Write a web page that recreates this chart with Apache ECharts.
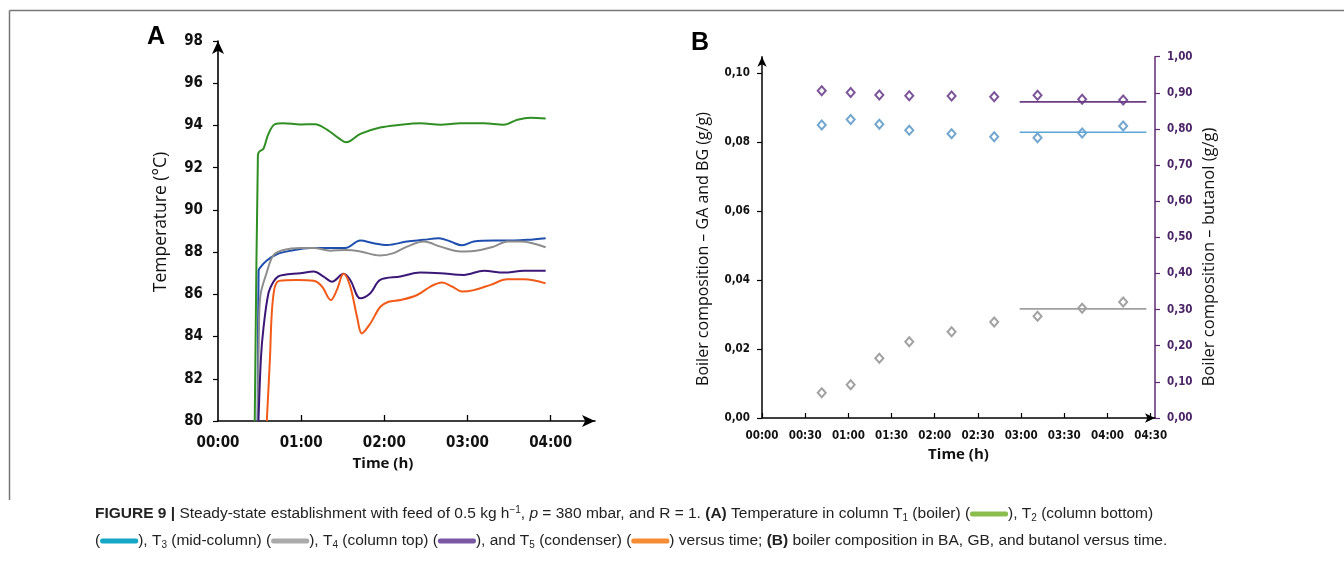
<!DOCTYPE html>
<html>
<head>
<meta charset="utf-8">
<script src="https://cdn.jsdelivr.net/npm/echarts@6/dist/echarts.min.js"></script>
<style>
html,body{margin:0;padding:0;background:#fff;}
#chart{width:1344px;height:562px;}
</style>
</head>
<body>
<div id="chart"></div>
<script>
// panel A - temperatures (time in minutes)
var t1Time = [26.5, 28.8, 29.8, 32.8, 36.4, 41.2, 47.2, 59.3, 70.1, 78.6, 87, 92.5, 102.7, 117, 131.6, 146, 160.5, 175, 191.8, 206, 216, 225.6, 236.4];
var t1Temp = [80, 92.6, 92.76, 92.9, 93.6, 94.06, 94.1, 94.05, 94.06, 93.8, 93.4, 93.2, 93.6, 93.9, 94.03, 94.1, 94.03, 94.1, 94.1, 94.03, 94.27, 94.37, 94.33];
var t2Time = [28.6, 29.3, 30.2, 35.2, 42.4, 52, 66.5, 78.6, 91.8, 102.7, 112.3, 122, 136.4, 148.5, 159.3, 167.7, 176.2, 184.6, 199, 213.5, 223.2, 236.4];
var t2Temp = [80, 87.1, 87.25, 87.6, 87.9, 88.06, 88.2, 88.2, 88.2, 88.55, 88.42, 88.34, 88.5, 88.58, 88.66, 88.5, 88.32, 88.5, 88.55, 88.55, 88.58, 88.66];
var t3Time = [28.7, 29.5, 30.5, 35, 40, 47.2, 59.3, 68.9, 81, 91.8, 102.7, 117, 126.7, 136.4, 148.5, 160.5, 175, 184.6, 199, 208.7, 218.4, 236.4];
var t3Temp = [80, 84.2, 85.9, 87.0, 87.85, 88.1, 88.2, 88.2, 88.07, 88.1, 88.03, 87.84, 87.95, 88.26, 88.5, 88.26, 88.03, 88.05, 88.26, 88.5, 88.5, 88.23];
var t4Time = [29.2, 31, 32.8, 36.4, 40, 43.5, 47.2, 59.3, 69, 76.2, 82.2, 90.6, 95.4, 102.7, 109.9, 117, 131.6, 146, 160.5, 177.4, 191.8, 206.3, 220.8, 236.4];
var t4Temp = [80, 83, 84.4, 86.05, 86.6, 86.85, 86.92, 87.0, 87.08, 86.84, 86.6, 86.97, 86.68, 85.81, 86.05, 86.68, 86.84, 87.03, 87.0, 86.92, 87.12, 87.03, 87.12, 87.12];
var t5Time = [35.2, 37.5, 38.7, 40.5, 43, 47, 56.8, 69, 75, 81.4, 85.7, 90.6, 95.4, 100.3, 103.8, 109.9, 117, 123.1, 131.6, 143.7, 153.3, 161.7, 168.9, 176.2, 184.6, 196.7, 208.7, 220.8, 236.4];
var t5Temp = [80, 83, 85, 86.2, 86.6, 86.66, 86.68, 86.64, 86.37, 85.73, 86.2, 86.97, 86.37, 84.94, 84.15, 84.62, 85.4, 85.65, 85.73, 85.97, 86.37, 86.56, 86.37, 86.13, 86.2, 86.45, 86.71, 86.71, 86.52];
var timeTicksA = [0, 60, 120, 180, 240];

// panel B - boiler composition
var sampleTime = [41.5, 61.6, 81.5, 102.3, 131.7, 161.3, 191.4, 222.4, 250.9];
var butanol = [0.906, 0.901, 0.894, 0.892, 0.891, 0.889, 0.893, 0.882, 0.880];
var compBlue = [0.0849, 0.0865, 0.0851, 0.0834, 0.0824, 0.0815, 0.0812, 0.0826, 0.0846];
var compGray = [0.0073, 0.0096, 0.0173, 0.0221, 0.025, 0.0278, 0.0295, 0.0318, 0.0336];
var steadyTime = [179, 267];
var butanolSteady = 0.875;
var blueSteady = 0.0828;
var graySteady = 0.0316;
var timeTicksB = [0, 30, 60, 90, 120, 150, 180, 210, 240, 270];
var leftTicksB = [0, 0.02, 0.04, 0.06, 0.08, 0.10];

function zip(a, b) {
    var out = [];
    for (var i = 0; i < a.length; i++) out.push([a[i], b[i]]);
    return out;
}
function hhmm(v) {
    var h = Math.floor(v / 60), m = Math.round(v - h * 60);
    return (h < 10 ? '0' : '') + h + ':' + (m < 10 ? '0' : '') + m;
}
function comma(v) {
    return v.toFixed(2).replace('.', ',');
}

var tickFont = "'DejaVu Sans Condensed', 'DejaVu Sans', sans-serif";
var titleFont = "'Open Sans', 'Noto Sans', sans-serif";
var purpleAxis = '#5e2b73';

function lineA(name, t, v, color) {
    return {
        name: name, type: 'line', xAxisIndex: 0, yAxisIndex: 0,
        data: zip(t, v), symbol: 'none', smooth: 0.35,
        lineStyle: {color: color, width: 2}
    };
}
function dots(name, y, color, axis) {
    return {
        name: name, type: 'scatter', xAxisIndex: 1, yAxisIndex: axis,
        data: zip(sampleTime, y), symbol: 'emptyDiamond', symbolSize: [8, 9],
        itemStyle: {color: color, borderWidth: 1.4}
    };
}
function steady(name, val, color, axis) {
    return {
        name: name, type: 'line', xAxisIndex: 1, yAxisIndex: axis,
        data: zip(steadyTime, [val, val]), symbol: 'none',
        lineStyle: {color: color, width: 1.7}
    };
}

var capFont = "'Liberation Sans Narrow', 'Liberation Sans', sans-serif";
var capSize = 15.5;
var capRich = {
    b: {fontWeight: 'bold', fontSize: capSize, fontFamily: capFont, fill: '#222', lineHeight: 18},
    i: {fontStyle: 'italic', fontSize: capSize, fontFamily: capFont, fill: '#222', lineHeight: 18},
    sub: {fontSize: 10, fontFamily: capFont, fill: '#222', verticalAlign: 'bottom', lineHeight: 18},
    sup: {fontSize: 10, fontFamily: capFont, fill: '#222', verticalAlign: 'top', lineHeight: 18},
    g: {width: 38, height: 5, backgroundColor: '#8bbd4e', borderRadius: 2},
    c: {width: 38, height: 5, backgroundColor: '#17a7c6', borderRadius: 2},
    gy: {width: 38, height: 5, backgroundColor: '#aaaaaa', borderRadius: 2},
    p: {width: 38, height: 5, backgroundColor: '#7b58a4', borderRadius: 2},
    o: {width: 38, height: 5, backgroundColor: '#f58b32', borderRadius: 2}
};
var capLine1 = '{b|FIGURE 9 |} Steady-state establishment with feed of 0.5 kg h{sup|\u22121}, {i|p} = 380 mbar, and R = 1. {b|(A)} Temperature in column T{sub|1} (boiler) ({g| }), T{sub|2} (column bottom)';
var capLine2 = '({c| }), T{sub|3} (mid-column) ({gy| }), T{sub|4} (column top) ({p| }), and T{sub|5} (condenser) ({o| }) versus time; {b|(B)} boiler composition in BA, GB, and butanol versus time.';

var option = {
    animation: false,
    backgroundColor: '#fff',
    grid: [
        {left: 218, top: 41, width: 377, height: 380},
        {left: 762, top: 56.7, width: 393, height: 361.3}
    ],
    xAxis: [{
        gridIndex: 0, type: 'value', min: 0, max: 272,
        axisLine: {lineStyle: {color: '#000', width: 1.6}, symbol: ['none', 'arrow'], symbolSize: [9, 13]},
        axisTick: {inside: true, length: 6, lineStyle: {color: '#000', width: 1.3}, customValues: [60, 120, 180, 240]},
        axisLabel: {customValues: timeTicksA, formatter: hhmm, margin: 15, color: '#111', fontSize: 15, fontWeight: 'bold', fontFamily: tickFont},
        splitLine: {show: false}
    }, {
        gridIndex: 1, type: 'value', min: 0, max: 273,
        axisLine: {lineStyle: {color: '#000', width: 1.5}, symbol: ['none', 'arrow'], symbolSize: [7, 10]},
        axisTick: {inside: true, length: 5, lineStyle: {color: '#000', width: 1.2}, customValues: timeTicksB},
        axisLabel: {customValues: timeTicksB, formatter: hhmm, margin: 12, color: '#111', fontSize: 11.5, fontWeight: 'bold', fontFamily: tickFont},
        splitLine: {show: false},
        name: 'Time (h)', nameLocation: 'middle', nameGap: 26,
        nameTextStyle: {fontSize: 15, fontWeight: 'bold', color: '#111', fontFamily: titleFont}
    }],
    yAxis: [{
        gridIndex: 0, type: 'value', min: 80, max: 98, interval: 2,
        axisLine: {lineStyle: {color: '#000', width: 1.6}, symbol: ['none', 'arrow'], symbolSize: [9, 13]},
        axisTick: {length: 5, lineStyle: {color: '#000', width: 1.2}},
        axisLabel: {margin: 15, color: '#111', fontSize: 15, fontWeight: 'bold', fontFamily: tickFont},
        splitLine: {show: false}
    }, {
        gridIndex: 1, type: 'value', min: 0, max: 0.1047,
        axisLine: {lineStyle: {color: '#000', width: 1.5}, symbol: ['none', 'arrow'], symbolSize: [7, 10]},
        axisTick: {length: 5, lineStyle: {color: '#000', width: 1.2}, customValues: leftTicksB},
        axisLabel: {customValues: leftTicksB, formatter: comma, margin: 12, color: '#111', fontSize: 11.5, fontWeight: 'bold', fontFamily: tickFont},
        splitLine: {show: false}
    }, {
        gridIndex: 1, type: 'value', position: 'right', min: 0, max: 1, interval: 0.1,
        axisLine: {show: true, lineStyle: {color: purpleAxis, width: 1.5}},
        axisTick: {show: true, length: 5, lineStyle: {color: purpleAxis, width: 1.2}},
        axisLabel: {formatter: comma, margin: 12, color: '#4a2466', fontSize: 11.5, fontWeight: 'bold', fontFamily: tickFont},
        splitLine: {show: false}
    }],
    graphic: [
        {type: 'line', shape: {x1: 9.5, y1: 10.5, x2: 1344, y2: 10.5}, style: {stroke: '#777', lineWidth: 1.5}},
        {type: 'line', shape: {x1: 9.5, y1: 10.5, x2: 9.5, y2: 500}, style: {stroke: '#777', lineWidth: 1.5}},
        {type: 'text', x: 147, y: 25, style: {text: 'A', fontSize: 25, fontWeight: 'bold', fontFamily: 'Liberation Sans, Arial, sans-serif', fill: '#000'}},
        {type: 'text', x: 691, y: 31, style: {text: 'B', fontSize: 25, fontWeight: 'bold', fontFamily: 'Liberation Sans, Arial, sans-serif', fill: '#000'}},
        {type: 'text', x: 161.5, y: 222, rotation: Math.PI / 2,
            style: {text: 'Temperature (\u00b0C)', fontSize: 17.5, fontFamily: titleFont, fill: '#111', align: 'center', verticalAlign: 'middle'}},
        {type: 'text', x: 383, y: 464,
            style: {text: 'Time (h)', fontSize: 15, fontWeight: 'bold', fontFamily: titleFont, fill: '#111', align: 'center', verticalAlign: 'middle'}},
        {type: 'text', x: 703.5, y: 249, rotation: Math.PI / 2,
            style: {text: 'Boiler composition \u2013 GA and BG (g/g)', fontSize: 16, fontFamily: titleFont, fill: '#111', align: 'center', verticalAlign: 'middle'}},
        {type: 'text', x: 1209, y: 257, rotation: Math.PI / 2,
            style: {text: 'Boiler composition \u2013 butanol (g/g)', fontSize: 16.5, fontFamily: titleFont, fill: '#111', align: 'center', verticalAlign: 'middle'}},
        {type: 'text', x: 95, y: 505, style: {text: capLine1, rich: capRich, fontSize: capSize, fontFamily: capFont, fill: '#222', lineHeight: 18}},
        {type: 'text', x: 95, y: 532, style: {text: capLine2, rich: capRich, fontSize: capSize, fontFamily: capFont, fill: '#222', lineHeight: 18}}
    ],
    series: [
        lineA('T1', t1Time, t1Temp, '#2f8f22'),
        lineA('T2', t2Time, t2Temp, '#1f4fae'),
        lineA('T3', t3Time, t3Temp, '#8c8c8c'),
        lineA('T4', t4Time, t4Temp, '#3b1877'),
        lineA('T5', t5Time, t5Temp, '#f25a17'),
        dots('butanol', butanol, '#5a2a7e', 2),
        dots('GA', compBlue, '#4d90c2', 1),
        dots('BG', compGray, '#8a8a8a', 1),
        steady('butanol steady', butanolSteady, '#6c3d84', 2),
        steady('GA steady', blueSteady, '#5aa6d8', 1),
        steady('BG steady', graySteady, '#a0a0a0', 1)
    ]
};

var myChart = echarts.init(document.getElementById('chart'));
myChart.setOption(option);
</script>
</body>
</html>
